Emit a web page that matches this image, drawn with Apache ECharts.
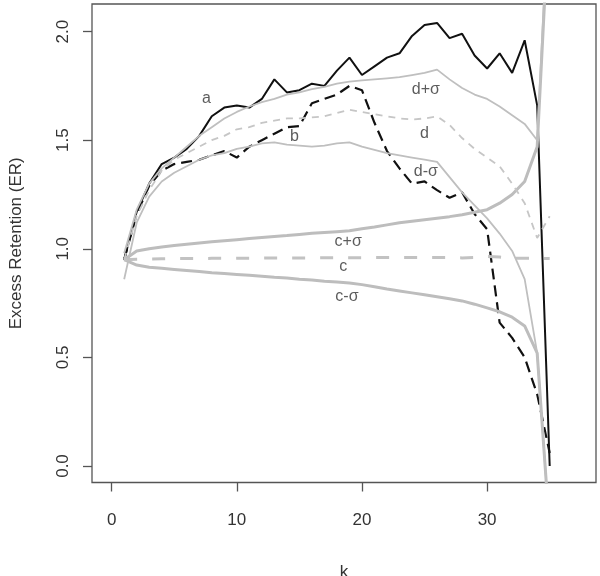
<!DOCTYPE html>
<html>
<head>
    <meta charset="utf-8">
    <title>Excess Retention</title>
    <script src="https://cdn.jsdelivr.net/npm/echarts@6/dist/echarts.min.js"></script>
    <style>
        body { margin: 0; background: #fff; }
    </style>
</head>
<body>
    <div id="main" style="width: 600px;height:576px;"></div>
    <script>
        // k values along the x axis
        var kValues = [1, 2, 3, 4, 5, 6, 7, 8, 9, 10, 11, 12, 13, 14, 15, 16, 17, 18,
            19, 20, 21, 22, 23, 24, 25, 26, 27, 28, 29, 30, 31, 32, 33, 34, 35];

        // series
        var seriesA = [0.95, 1.17, 1.30, 1.39, 1.42, 1.46, 1.52, 1.61, 1.65, 1.66, 1.65, 1.69,
            1.78, 1.72, 1.73, 1.76, 1.75, 1.82, 1.88, 1.80, 1.84, 1.88, 1.90, 1.98, 2.03, 2.04,
            1.97, 1.99, 1.89, 1.83, 1.90, 1.81, 1.96, 1.66, 0.00];
        var seriesB = [0.95, 1.16, 1.29, 1.36, 1.39, 1.40, 1.41, 1.43, 1.45, 1.42, 1.47, 1.50,
            1.53, 1.56, 1.565, 1.67, 1.69, 1.71, 1.75, 1.73, 1.58, 1.45, 1.37, 1.30, 1.31, 1.27,
            1.235, 1.26, 1.16, 1.09, 0.66, 0.59, 0.50, 0.33, 0.06];
        var seriesC = [0.95, 0.952, 0.953, 0.954, 0.955, 0.955, 0.955, 0.956, 0.956, 0.957, 0.957,
            0.957, 0.958, 0.958, 0.958, 0.958, 0.959, 0.959, 0.959, 0.959, 0.96, 0.96, 0.96, 0.96,
            0.96, 0.96, 0.96, 0.958, 0.96, 0.965, 0.962, 0.957, 0.956, 0.956, 0.955];
        var seriesCPlus = [0.95, 0.99, 1.0, 1.008, 1.015, 1.021, 1.027, 1.032, 1.037, 1.042, 1.047,
            1.052, 1.057, 1.061, 1.066, 1.071, 1.075, 1.079, 1.083, 1.092, 1.10, 1.11, 1.12, 1.127,
            1.134, 1.141, 1.148, 1.157, 1.168, 1.18, 1.21, 1.25, 1.31, 1.47, 2.6];
        var seriesCMinus = [0.95, 0.925, 0.915, 0.91, 0.905, 0.90, 0.895, 0.89, 0.886, 0.882, 0.878,
            0.874, 0.869, 0.865, 0.86, 0.856, 0.851, 0.847, 0.843, 0.835, 0.825, 0.815, 0.806, 0.797,
            0.788, 0.779, 0.77, 0.76, 0.745, 0.728, 0.71, 0.685, 0.645, 0.52, -0.3];
        var seriesD = [0.95, 1.15, 1.27, 1.36, 1.41, 1.44, 1.47, 1.50, 1.52, 1.55, 1.56, 1.58,
            1.59, 1.60, 1.60, 1.605, 1.61, 1.625, 1.64, 1.63, 1.62, 1.61, 1.60, 1.595, 1.60, 1.61,
            1.57, 1.51, 1.46, 1.42, 1.38, 1.30, 1.21, 1.05, 1.15];
        var seriesDPlus = [0.98, 1.18, 1.30, 1.37, 1.42, 1.47, 1.52, 1.56, 1.60, 1.63, 1.655, 1.675,
            1.69, 1.71, 1.72, 1.735, 1.745, 1.76, 1.77, 1.775, 1.78, 1.785, 1.79, 1.80, 1.81, 1.825,
            1.78, 1.74, 1.71, 1.69, 1.655, 1.615, 1.575, 1.50, 2.7];
        var seriesDMinus = [0.86, 1.12, 1.24, 1.31, 1.35, 1.38, 1.41, 1.43, 1.44, 1.46, 1.47, 1.485,
            1.49, 1.48, 1.475, 1.47, 1.475, 1.485, 1.49, 1.47, 1.455, 1.44, 1.43, 1.42, 1.41, 1.40,
            1.33, 1.26, 1.20, 1.14, 1.07, 0.99, 0.86, 0.52, -0.3];

        // tick labels
        var xTicks = [0, 10, 20, 30];
        var yTicks = [0, 0.5, 1, 1.5, 2];

        // curve labels and where they sit (data coords)
        var curveNames = ['a', 'b', 'd+σ', 'd', 'd-σ', 'c+σ', 'c', 'c-σ'];
        var curveLabelK = [7.57, 14.6, 25.1, 25.0, 25.1, 18.9, 18.5, 18.8];
        var curveLabelV = [1.693, 1.516, 1.735, 1.532, 1.355, 1.031, 0.916, 0.778];

        function pairs(vals) {
            return kValues.map(function (k, i) { return [k, vals[i]]; });
        }

        function line(name, vals, color, width, type) {
            return {
                name: name,
                type: 'line',
                data: pairs(vals),
                showSymbol: false,
                symbol: 'none',
                clip: true,
                lineStyle: { color: color, width: width, type: type }
            };
        }

        var textFont = '"Liberation Sans", Arial, sans-serif';
        var textColor = '#333';

        var myChart = echarts.init(document.getElementById('main'));

        var option = {
            animation: false,
            backgroundColor: '#fff',
            grid: {
                left: 92, top: 4, right: 4, bottom: 93.5,
                outerBoundsMode: 'none',
                show: true, borderColor: '#555', borderWidth: 1.3
            },
            xAxis: {
                type: 'value',
                min: -1.57, max: 38.7,
                name: 'k', nameLocation: 'middle', nameGap: 81,
                nameTextStyle: { fontSize: 17, color: textColor, fontFamily: textFont },
                axisLine: { show: false, onZero: false },
                splitLine: { show: false },
                axisTick: { show: true, length: 9, lineStyle: { color: '#555', width: 1.3 }, customValues: xTicks },
                axisLabel: { fontSize: 17, color: textColor, fontFamily: textFont, margin: 29, customValues: xTicks }
            },
            yAxis: {
                type: 'value',
                min: -0.076, max: 2.127,
                name: 'Excess Retention (ER)', nameLocation: 'middle', nameGap: 67, nameRotate: 90,
                nameTextStyle: { fontSize: 17, color: textColor, fontFamily: textFont },
                axisLine: { show: false, onZero: false },
                splitLine: { show: false },
                axisTick: { show: true, length: 9, lineStyle: { color: '#555', width: 1.3 }, customValues: yTicks },
                axisLabel: {
                    fontSize: 17, color: textColor, fontFamily: textFont, margin: 20, rotate: 90,
                    customValues: yTicks,
                    formatter: function (v) { return v.toFixed(1); }
                }
            },
            series: [
                line('a', seriesA, '#111', 2, 'solid'),
                line('b', seriesB, '#111', 2.2, [11, 6]),
                line('c+σ', seriesCPlus, '#bdbdbd', 3, 'solid'),
                line('c-σ', seriesCMinus, '#bdbdbd', 3, 'solid'),
                line('c', seriesC, '#c2c2c2', 3, [13, 15]),
                line('d+σ', seriesDPlus, '#bfbfbf', 1.8, 'solid'),
                line('d-σ', seriesDMinus, '#bfbfbf', 1.8, 'solid'),
                line('d', seriesD, '#c6c6c6', 1.8, [7, 6]),
                {
                    type: 'scatter',
                    symbolSize: 0,
                    silent: true,
                    data: curveNames.map(function (n, i) {
                        return { name: n, value: [curveLabelK[i], curveLabelV[i]] };
                    }),
                    label: {
                        show: true, position: 'inside', formatter: '{b}',
                        fontSize: 16, color: textColor, fontFamily: textFont
                    }
                }
            ]
        };

        myChart.setOption(option);
    </script>
</body>
</html>
